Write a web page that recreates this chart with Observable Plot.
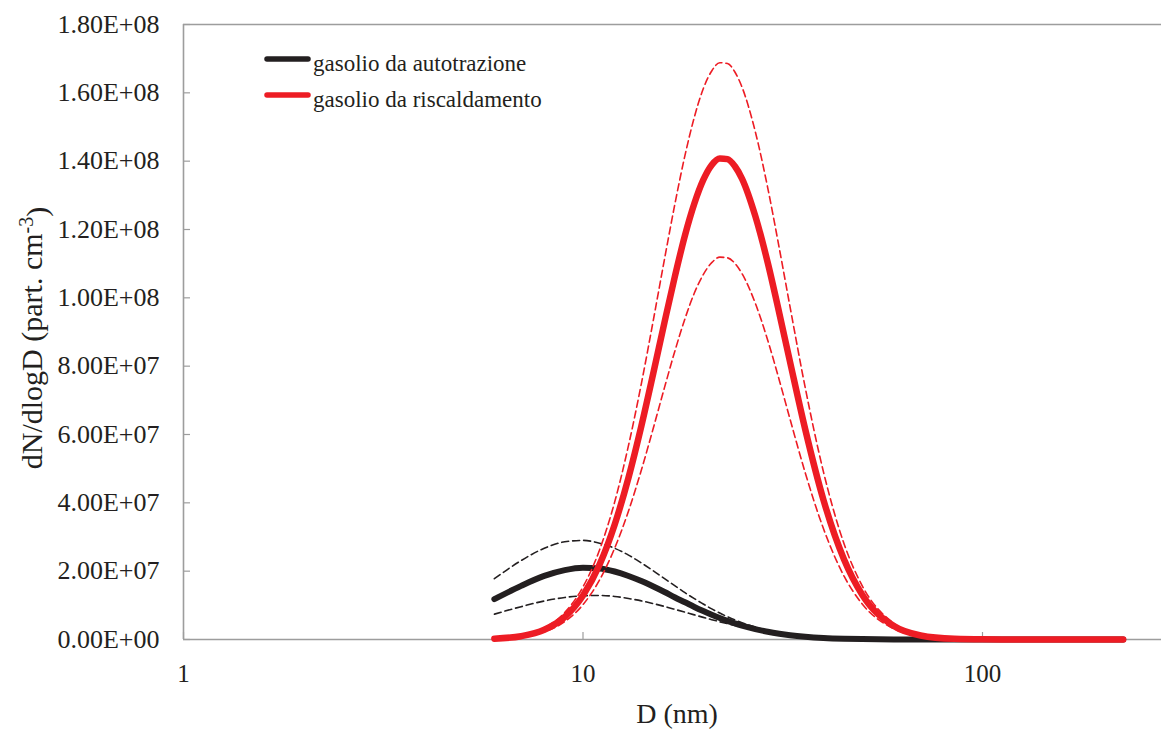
<!DOCTYPE html>
<html><head><meta charset="utf-8">
<script src="https://cdn.jsdelivr.net/npm/d3@7"></script>
<script src="https://cdn.jsdelivr.net/npm/@observablehq/plot@0.6"></script>
<style>
html,body{margin:0;padding:0;background:#fff;}
#chart svg{display:block;}
</style></head><body><div id="chart"></div>
<script>
// Diameters (nm)
const diameters = [6,7,8,9,10,11,12,13,14,15,16,17,18,19,20,21,22,23,24,25,27,29,31,33,36,40,45,50,60,70,85,100,130,170,225];
// dN/dlogD values, in units of 1e6 part. cm-3
const autoMedia = [11.8,15.7,18.6,20.3,21.0,20.8,19.9,18.6,17.1,15.5,13.9,12.3,10.9,9.53,8.33,7.25,6.29,5.45,4.72,4.08,3.04,2.26,1.69,1.26,0.82,0.46,0.23,0.12,0.03,0.01,0,0,0,0,0];
const autoMax = [17.8,23.1,26.7,28.6,29.0,28.2,26.7,24.7,22.4,20.1,17.8,15.7,13.7,11.95,10.4,8.96,7.73,6.66,5.73,4.93,3.63,2.69,1.99,1.47,0.95,0.53,0.26,0.14,0.04,0.01,0,0,0,0,0];
const autoMin = [7.42,9.61,11.27,12.3,12.8,12.9,12.6,12.0,11.3,10.5,9.66,8.81,7.99,7.21,6.48,5.81,5.19,4.63,4.12,3.67,2.90,2.29,1.80,1.43,1.00,0.63,0.36,0.21,0.08,0.03,0.01,0,0,0,0];
const riscMedia = [0.24,0.97,2.85,6.59,12.9,21.9,33.6,47.4,62.5,78.0,92.9,106.5,118.3,127.6,134.5,138.9,140.8,140.6,138.5,134.9,123.9,110.3,95.5,81.1,61.5,40.8,23.5,13.1,3.94,1.18,0.20,0.04,0,0,0];
const riscMax = [0.28,1.16,3.41,7.89,15.4,26.2,40.2,56.8,74.9,93.5,111.4,127.7,141.7,152.9,161.2,166.4,168.8,168.6,166.1,161.7,148.6,132.2,114.5,97.2,73.7,49.0,28.1,15.7,4.72,1.41,0.24,0.04,0,0,0];
const riscMin = [0.19,0.77,2.26,5.23,10.2,17.4,26.7,37.6,49.6,61.9,73.8,84.6,93.9,101.4,106.8,110.3,111.9,111.7,110.1,107.1,98.4,87.6,75.9,64.4,48.8,32.4,18.6,10.4,3.12,0.94,0.16,0.03,0,0,0];

const seriesNames = ["gasolio da autotrazione", "gasolio da riscaldamento"];
const xTicks = [1, 10, 100];
const xTickLabels = ["1", "10", "100"];
const yTicks = [0, 2e7, 4e7, 6e7, 8e7, 1e8, 1.2e8, 1.4e8, 1.6e8, 1.8e8];
const yTickLabels = ["0.00E+00","2.00E+07","4.00E+07","6.00E+07","8.00E+07","1.00E+08","1.20E+08","1.40E+08","1.60E+08","1.80E+08"];
const xLabel = "D (nm)";

const BLACK = "#231f20", RED = "#ed1c24", AXIS = "#9d9d9d";

function rows(arr, key) {
  return diameters.map((D, i) => ({D, v: arr[i] * 1e6, key}));
}
const data = [
  ...rows(autoMax, "autoMax"), ...rows(autoMin, "autoMin"), ...rows(autoMedia, "autoMedia"),
  ...rows(riscMax, "riscMax"), ...rows(riscMin, "riscMin"), ...rows(riscMedia, "riscMedia")
];
const only = k => data.filter(d => d.key === k);

const font = "'Liberation Serif', 'Times New Roman', serif";

const chart = Plot.plot({
  width: 1161, height: 729,
  marginLeft: 183, marginRight: 0, marginTop: 24, marginBottom: 90,
  style: {fontFamily: font, fontSize: "24px", color: BLACK, background: "#fff"},
  x: {type: "log", domain: [1, 280.6]},
  y: {domain: [0, 1.8e8]},
  marks: [
    Plot.ruleY([0, 1.8e8], {stroke: AXIS, strokeWidth: 1.6}),
    Plot.ruleX([1], {stroke: AXIS, strokeWidth: 1.6}),
    Plot.axisY({ticks: yTicks, tickSize: 7, dx: 7, stroke: AXIS, strokeWidth: 1.2, tickFormat: () => "", label: null}),
    Plot.axisY({ticks: yTicks, tickSize: 0, tickPadding: 24, tickFormat: d => yTickLabels[yTicks.indexOf(d)], label: null, fill: BLACK, fontSize: 26}),
    Plot.axisX({ticks: xTicks, tickSize: 7, dy: -7, stroke: AXIS, strokeWidth: 1.2, tickFormat: () => "", label: null}),
    Plot.axisX({ticks: xTicks, tickSize: 0, tickPadding: 25, tickFormat: d => xTickLabels[xTicks.indexOf(d)], label: null, fill: BLACK, fontSize: 25}),
    Plot.line(only("autoMax"), {x: "D", y: "v", stroke: BLACK, strokeWidth: 1.6, strokeDasharray: "7,4", curve: "monotone-x"}),
    Plot.line(only("autoMin"), {x: "D", y: "v", stroke: BLACK, strokeWidth: 1.6, strokeDasharray: "7,4", curve: "monotone-x"}),
    Plot.line(only("autoMedia"), {x: "D", y: "v", stroke: BLACK, strokeWidth: 6, strokeLinecap: "round", curve: "monotone-x"}),
    Plot.line(only("riscMax"), {x: "D", y: "v", stroke: RED, strokeWidth: 1.6, strokeDasharray: "7,4", curve: "monotone-x"}),
    Plot.line(only("riscMin"), {x: "D", y: "v", stroke: RED, strokeWidth: 1.6, strokeDasharray: "7,4", curve: "monotone-x"}),
    Plot.line(only("riscMedia"), {x: "D", y: "v", stroke: RED, strokeWidth: 6.5, strokeLinecap: "round", curve: "monotone-x"})
  ]
});

const svg = d3.select(chart);
// Y axis title with superscript
const yt = svg.append("text")
  .attr("transform", "translate(42,338) rotate(-90)")
  .attr("text-anchor", "middle")
  .attr("font-family", font).attr("font-size", 30).attr("fill", BLACK);
yt.append("tspan").text("dN/dlogD (part. cm");
yt.append("tspan").attr("dy", "-0.45em").attr("font-size", 20).text("-3");
yt.append("tspan").attr("dy", "0.45em").text(")");
// X axis title
svg.append("text").attr("x", 677).attr("y", 723).attr("text-anchor", "middle")
  .attr("font-family", font).attr("font-size", 28).attr("fill", BLACK).text(xLabel);
// Legend
const legendColors = [BLACK, RED];
const lg = svg.append("g");
seriesNames.forEach((name, i) => {
  const yy = 59 + i * 36;
  lg.append("line").attr("x1", 267).attr("x2", 308).attr("y1", yy).attr("y2", yy)
    .attr("stroke", legendColors[i]).attr("stroke-width", 5.5).attr("stroke-linecap", "round");
  lg.append("text").attr("x", 313).attr("y", yy + 12).attr("text-anchor", "start")
    .attr("font-family", font).attr("font-size", 23).attr("fill", BLACK).text(name);
});
document.getElementById("chart").append(chart);
</script>
</body></html>
